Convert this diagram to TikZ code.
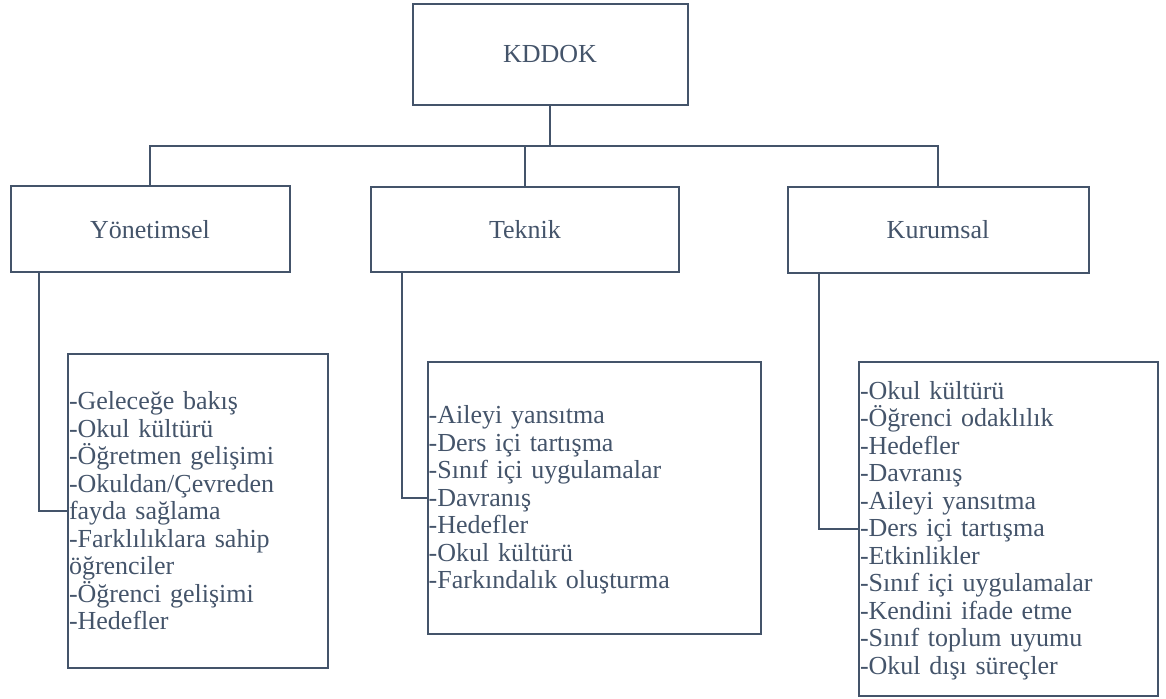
\documentclass[tikz,border=0pt]{standalone}
\usepackage{fontspec}
\setmainfont{Liberation Serif}
\definecolor{ink}{HTML}{44546A}
\begin{document}
\begin{tikzpicture}[x=1pt,y=-1pt,line width=2pt,
  head/.style={draw=ink,text=ink,font=\fontsize{26}{27.5}\selectfont,inner sep=0pt},
  listbox/.style={draw=ink,text=ink,font=\fontsize{26}{27.5}\selectfont,inner xsep=1pt,inner ysep=0pt,align=left},
  link/.style={draw=ink,line width=2pt}]
\useasboundingbox (0,0) rectangle (1166,698);
\node[head,minimum width=275pt,minimum height=101pt] (kddok) at (550,54.5) {KDDOK};
\node[head,minimum width=279pt,minimum height=86pt] (yon) at (150,229.3) {Yönetimsel};
\node[head,minimum width=308pt,minimum height=85pt] (tek) at (525,229.2) {Teknik};
\node[head,minimum width=301pt,minimum height=86pt] (kur) at (938,229.5) {Kurumsal};
\node[listbox,text width=257.7pt,minimum height=314.3pt] (yl) at (197.85,511) {-Geleceğe bakış\\-Okul kültürü\\-Öğretmen gelişimi\\-Okuldan/Çevreden\\fayda sağlama\\-Farklılıklara sahip\\öğrenciler\\-Öğrenci gelişimi\\-Hedefler};
\node[listbox,text width=331.6pt,minimum height=271.7pt] (tl) at (594.5,498) {\rule{0pt}{22pt}-Aileyi yansıtma\\-Ders içi tartışma\\-Sınıf içi uygulamalar\\-Davranış\\-Hedefler\\-Okul kültürü\\-Farkındalık oluşturma};
\node[listbox,text width=297.3pt,minimum height=333.7pt] (kl) at (1008.65,529) {\rule{0pt}{21pt}-Okul kültürü\\-Öğrenci odaklılık\\-Hedefler\\-Davranış\\-Aileyi yansıtma\\-Ders içi tartışma\\-Etkinlikler\\-Sınıf içi uygulamalar\\-Kendini ifade etme\\-Sınıf toplum uyumu\\-Okul dışı süreçler};
\coordinate (bus) at (0,146);
\coordinate (yd) at (38.5,0);
\coordinate (td) at (401.5,0);
\coordinate (kd) at (818.5,0);
\draw[link] (kddok.south) -- (kddok.south |- bus);
\draw[link] (yon.north) -- (yon.north |- bus) -- (kur.north |- bus) -- (kur.north);
\draw[link] (tek.north) -- (tek.north |- bus);
\draw[link] (yon.south -| yd) |- (yl.west);
\draw[link] (tek.south -| td) |- (tl.west);
\draw[link] (kur.south -| kd) |- (kl.west);
\end{tikzpicture}
\end{document}
